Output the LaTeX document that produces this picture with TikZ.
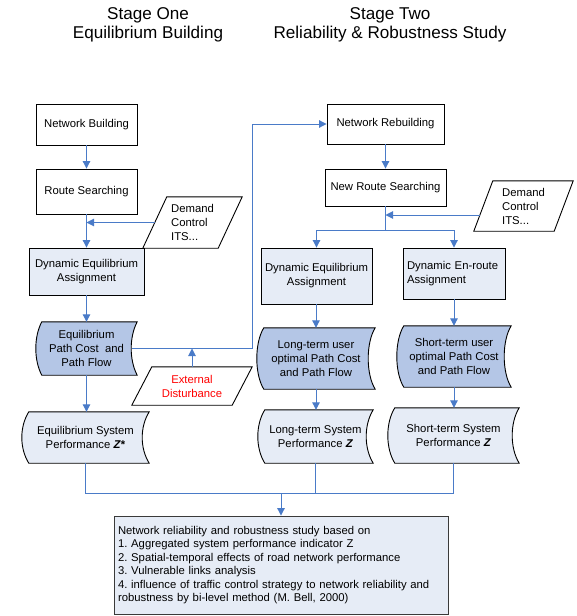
\documentclass[tikz,border=0pt]{standalone}
\usepackage{fontspec}
\setmainfont{Liberation Sans}
\usetikzlibrary{arrows.meta,calc,backgrounds}
\definecolor{lightfill}{HTML}{E6ECF6}
\definecolor{darkfill}{HTML}{B4C6E6}
\definecolor{conn}{HTML}{4A7BC8}
\definecolor{redtxt}{HTML}{FF0000}
\definecolor{finborder}{HTML}{3A3A3A}
\frenchspacing
% stored-data shape behind a node: node, bulge, fill
\newcommand\sdshape[3]{%
  \draw[boxline, fill=#3] ($(#1.north west)+(#2,0)$) -- (#1.north east)
    .. controls +(-4*#2/3,15) and +(-4*#2/3,-15) .. (#1.south east)
    -- ($(#1.south west)+(#2,0)$)
    .. controls +(-4*#2/3,-15) and +(-4*#2/3,15) .. ($(#1.north west)+(#2,0)$) -- cycle;}
% parallelogram behind a node: node, slant, fill
\newcommand\pgram[3]{%
  \draw[boxline, fill=#3] ($(#1.north west)+(#2,0)$) -- (#1.north east)
    -- ($(#1.south east)+(-#2,0)$) -- (#1.south west) -- cycle;}
\begin{document}
\begin{tikzpicture}[x=1pt,y=-1pt,
  font=\fontsize{11.3}{14}\selectfont,
  boxline/.style={draw=black, line width=0.9pt},
  plainbox/.style={boxline, inner sep=2pt, align=center},
  shapetext/.style={inner sep=2pt, align=center},
  conline/.style={draw=conn, line width=1pt},
  arr/.style={conline, -{Triangle[length=7.5pt,width=7.5pt]}},
  title/.style={font=\fontsize{17.1}{19}\selectfont, align=center}]
\useasboundingbox (0,0) rectangle (576,616);

% titles
\node[title] (t1) at (148,25) {Stage One\\Equilibrium Building};
\node[title] (t2) at (390,25) {Stage Two\\Reliability \& Robustness Study};

% stage one
\node[plainbox, minimum width=101pt, minimum height=41pt] (nb) at (86.5,124.5) {Network Building};
\node[plainbox, minimum width=101pt, minimum height=45pt] (rs) at (86.5,191.5) {Route Searching};
\node[plainbox, fill=lightfill, minimum width=115pt, minimum height=47pt] (dea) at (86.5,271.5) {Dynamic Equilibrium\\Assignment};
\node[shapetext, minimum width=101pt, minimum height=53pt] (epc) at (86.5,348.5) {Equilibrium\\Path Cost\ \ and\\Path Flow};
\node[shapetext, minimum width=127pt, minimum height=51pt] (esp) at (85.5,437.5) {Equilibrium System\\Performance \textbf{\textit{Z*}}};
\node[shapetext, align=left, minimum width=99pt, minimum height=51pt] (d1) at (192.5,222.5) {Demand\\Control\\ITS...};
\node[shapetext, text=redtxt, minimum width=120pt, minimum height=38pt] (ext) at (192,386) {External\\Disturbance};

% stage two
\node[plainbox, minimum width=117pt, minimum height=40pt] (nrb) at (385.5,124) {Network Rebuilding};
\node[plainbox, minimum width=121pt, minimum height=37pt] (nrs) at (385.5,187.5) {New Route Searching};
\node[shapetext, align=left, minimum width=99pt, minimum height=50pt] (d2) at (523.5,206) {Demand\\Control\\ITS...};
\node[plainbox, fill=lightfill, minimum width=111pt, minimum height=56pt] (dea2) at (316.5,276) {Dynamic Equilibrium\\Assignment};
\node[plainbox, fill=lightfill, align=left, inner sep=4pt, text width=94pt, minimum height=51pt] (der) at (454,273.5) {Dynamic En-route\\Assignment};
\node[shapetext, minimum width=118pt, minimum height=61pt] (lt) at (316,358.5) {Long-term user\\optimal Path Cost\\and Path Flow};
\node[shapetext, minimum width=114pt, minimum height=61pt] (st) at (454,356.5) {Short-term user\\optimal Path Cost\\and Path Flow};
\node[shapetext, minimum width=115pt, minimum height=53pt] (ltp) at (315.5,436.5) {Long-term System\\Performance \textbf{\textit{Z}}};
\node[shapetext, minimum width=131pt, minimum height=55pt] (stp) at (453.5,435.5) {Short-term System\\Performance \textbf{\textit{Z}}};

% final box
\node[draw=finborder, line width=0.9pt, fill=lightfill, align=left, inner sep=4pt,
      text width=326pt, minimum height=98pt, font=\fontsize{11.3}{13.4}\selectfont] (fin) at (281,565)
 {Network reliability and robustness study based on\\
  1. Aggregated system performance indicator Z\\
  2. Spatial-temporal effects of road network performance\\
  3. Vulnerable links analysis\\
  4. influence of traffic control strategy to network reliability and\\
  robustness by bi-level method (M. Bell, 2000)};

% shapes behind texts
\begin{scope}[on background layer]
  \sdshape{epc}{6}{darkfill}
  \sdshape{esp}{7}{lightfill}
  \sdshape{lt}{7}{darkfill}
  \sdshape{st}{7}{darkfill}
  \sdshape{ltp}{7}{lightfill}
  \sdshape{stp}{7}{lightfill}
  \pgram{d1}{24}{white}
  \pgram{ext}{20}{white}
  \pgram{d2}{19}{white}
\end{scope}

% helper coordinates
\coordinate (d1p) at ($(d1.west)+(12,0)$);
\coordinate (d2p) at (480,215);
\coordinate (epce) at ($(epc.east)+(-5,0)$);
\coordinate (loopx) at (252,0);
\coordinate (branch) at (385.5,230);
\coordinate (bus) at (0,493);

% stage one connectors
\draw[arr] (nb.south) -- (rs.north);
\draw[arr] (rs.south) -- (dea.north);
\draw[arr] (d1p) -- (d1p -| rs.south);
\draw[arr] (dea.south) -- (epc.north);
\draw[arr] (epc.south) -- (epc.south |- esp.north);
\draw[arr] (epce) -- (epce -| loopx) |- (nrb.west);
\draw[arr] (ext.north) -- (ext.north |- epce);

% stage two connectors
\draw[arr] (nrb.south) -- (nrs.north);
\draw[conline] (nrs.south) -- (branch);
\draw[arr] (d2p) -- (d2p -| nrs.south);
\draw[conline] (dea2.north |- branch) -- (der.north |- branch);
\draw[arr] (dea2.north |- branch) -- (dea2.north);
\draw[arr] (der.north |- branch) -- (der.north);
\draw[arr] (dea2.south) -- (dea2.south -| lt.north) -- (lt.north);
\draw[arr] (der.south) -- (st.north);
\draw[arr] (lt.south) -- (lt.south |- ltp.north);
\draw[arr] (st.south) -- (st.south |- stp.north);

% bottom bus
\draw[conline] (esp.south) -- (esp.south |- bus) -- (stp.south |- bus) -- (stp.south);
\draw[conline] (ltp.south) -- (ltp.south |- bus);
\draw[arr] (fin.north |- bus) -- (fin.north);
\end{tikzpicture}
\end{document}
